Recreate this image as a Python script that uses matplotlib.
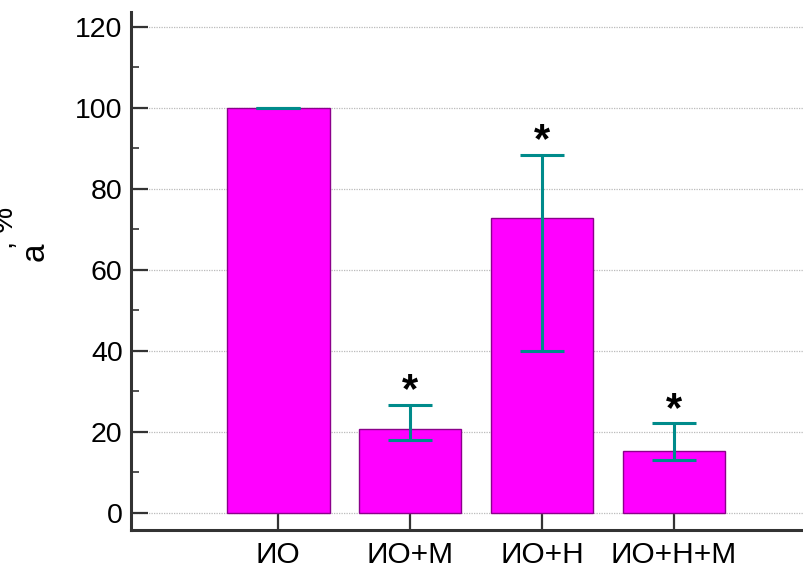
import matplotlib
matplotlib.use("Agg")
import matplotlib.pyplot as plt
import numpy as np

plt.rcParams['font.family'] = ['Liberation Sans', 'DejaVu Sans']

categories = ["ИО", "ИО+М", "ИО+Н", "ИО+Н+М"]
values = [100, 20.8, 72.8, 15.2]
err_low = [0, 2.9, 32.8, 2.1]
err_high = [0, 5.9, 15.6, 7.0]
significant = [False, True, True, True]

fig = plt.figure(figsize=(8.04, 5.68), dpi=100)
ax = fig.add_axes([131/804, 1-530/568, (804-131)/804, (530-12)/568])

x = np.arange(len(categories))
ax.set_axisbelow(True)
ax.yaxis.grid(True, linestyle=(0, (1, 1)), color='#bbbbbb', linewidth=0.9)
ax.bar(x, values, width=0.78, color='#FF00FF', edgecolor='#8B008B', linewidth=1.0, zorder=2)
ax.errorbar(x, values, yerr=[err_low, err_high], fmt='none', ecolor='#008B8B',
            elinewidth=2.2, capsize=15.5, capthick=2.2, zorder=3)

for xi, v, eh, s in zip(x, values, err_high, significant):
    if s:
        ax.text(xi, v + eh + 0.6, "*", ha='center', va='baseline', fontsize=30,
                fontweight='bold', color='black')

ax.set_xlim(-1.114, 3.985)
ax.set_ylim(-4.2, 123.7)
ax.set_yticks(np.arange(0, 121, 20))
ax.set_yticks(np.arange(10, 121, 20), minor=True)
ax.set_xticks(x)
ax.set_xticklabels(categories)

for sp in ['top', 'right']:
    ax.spines[sp].set_visible(False)
for sp in ['left', 'bottom']:
    ax.spines[sp].set_linewidth(2.2)
    ax.spines[sp].set_color('#333333')

ax.tick_params(axis='both', which='major', direction='in', length=12, width=1.6,
               color='#333333', labelsize=20.5)
ax.tick_params(axis='x', which='major', labelsize=21.5)
ax.tick_params(axis='y', which='minor', direction='in', length=6, width=1.2, color='#333333')
ax.tick_params(axis='y', which='major', pad=6)
ax.tick_params(axis='x', which='major', pad=8)

fig.text(35/804, 1-252/568, "a", rotation=90, ha='center', va='center', fontsize=24)
fig.text(5/804, 1-228/568, ", %", rotation=90, ha='center', va='center', fontsize=21)

fig.savefig("out.png", dpi=100)
